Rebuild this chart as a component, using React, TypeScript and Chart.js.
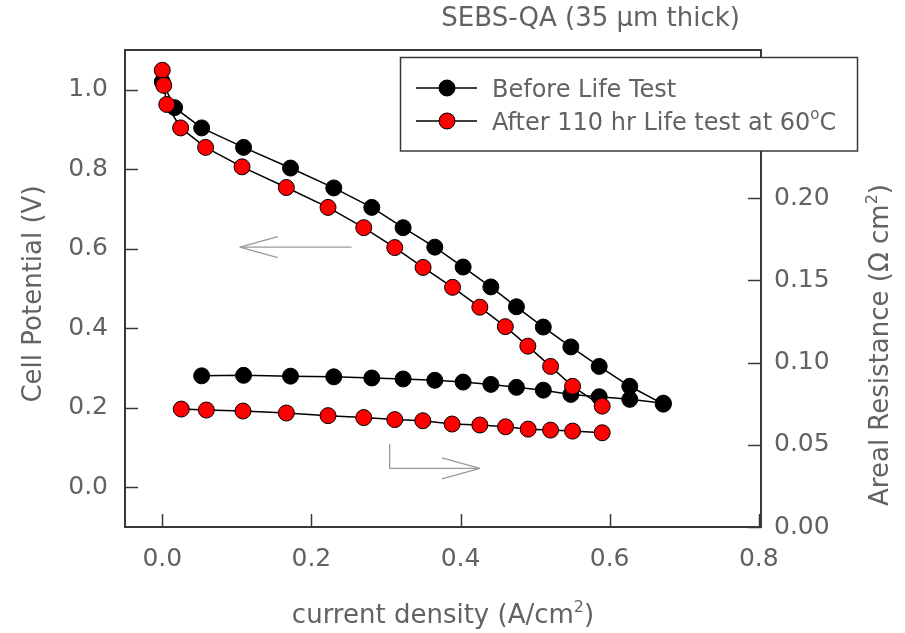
import React, { useEffect, useRef } from 'react';
import { Chart, registerables } from 'chart.js';

Chart.register(...registerables);

// ---------- data ----------
// Polarization curves (left axis, Cell Potential V) vs current density (A/cm2)
const beforeCurrent = [0.0, 0.0165, 0.0528, 0.109, 0.172, 0.23, 0.281, 0.323, 0.3655, 0.4035, 0.4407, 0.475, 0.511, 0.548, 0.586, 0.627, 0.672];
const beforePotential = [1.02, 0.955, 0.904, 0.855, 0.803, 0.753, 0.704, 0.653, 0.604, 0.554, 0.504, 0.454, 0.403, 0.353, 0.304, 0.254, 0.209];

const afterCurrent = [0.0, 0.002, 0.006, 0.0246, 0.0581, 0.107, 0.1664, 0.2223, 0.2702, 0.3118, 0.3498, 0.3893, 0.4259, 0.4601, 0.4903, 0.5208, 0.5503, 0.59];
const afterPotential = [1.049, 1.011, 0.963, 0.904, 0.855, 0.806, 0.754, 0.704, 0.653, 0.603, 0.553, 0.503, 0.453, 0.404, 0.355, 0.304, 0.254, 0.204];

// Areal resistance (right axis, Ohm cm2)
const beforeResCurrent = [0.0528, 0.109, 0.172, 0.23, 0.281, 0.323, 0.3655, 0.4035, 0.4407, 0.475, 0.511, 0.548, 0.586, 0.627, 0.672];
const beforeResistance = [0.0919, 0.0922, 0.0917, 0.0913, 0.0906, 0.09, 0.0892, 0.0881, 0.0867, 0.0849, 0.0832, 0.0806, 0.0792, 0.0776, 0.0753];

const afterResCurrent = [0.0255, 0.0591, 0.1082, 0.1664, 0.2223, 0.2702, 0.3118, 0.3494, 0.3887, 0.4259, 0.4604, 0.4907, 0.5208, 0.5503, 0.59];
const afterResistance = [0.0717, 0.0711, 0.0705, 0.0693, 0.0677, 0.0665, 0.0653, 0.0646, 0.0626, 0.062, 0.0609, 0.0595, 0.0589, 0.0583, 0.0573];

// tick values
const xTicks = [0, 0.2, 0.4, 0.6, 0.8];
const leftTicks = [0, 0.2, 0.4, 0.6, 0.8, 1.0];
const rightTicks = [0, 0.05, 0.1, 0.15, 0.2];

// labels
const chartTitle = 'SEBS-QA (35 \u03bcm thick)';
const seriesBefore = 'Before Life Test';
const seriesAfterMain = 'After 110 hr Life test at 60';
const seriesAfterSup = 'o';
const seriesAfterEnd = 'C';

// arrows (data coordinates)
const leftArrow = { fromX: 0.254, toX: 0.104, y: 0.604 }; // on left axis
const rightArrow = { x: 0.305, yTop: 0.0504, yBottom: 0.0357, toX: 0.426 }; // on right axis

// ---------- styling ----------
const FONT = 'DejaVu Sans';
const TEXT = '#626262';
const AXIS = '#383838';
const ARROW = '#9a9a9a';

const zip = (xs: number[], ys: number[]) => xs.map((x, i) => ({ x, y: ys[i] }));

type Part = { text: string; sup?: boolean };

function drawRich(ctx: CanvasRenderingContext2D, parts: Part[], x: number, y: number, size: number, align: 'left' | 'center' | 'right') {
  const font = `${size}px "${FONT}"`;
  const supFont = `${Math.round(size * 0.62)}px "${FONT}"`;
  const widths = parts.map((p) => {
    ctx.font = p.sup ? supFont : font;
    return ctx.measureText(p.text).width;
  });
  const total = widths.reduce((a, b) => a + b, 0);
  let cx = align === 'center' ? x - total / 2 : align === 'right' ? x - total : x;
  ctx.textAlign = 'left';
  ctx.textBaseline = 'alphabetic';
  parts.forEach((p, i) => {
    ctx.font = p.sup ? supFont : font;
    ctx.fillText(p.text, cx, p.sup ? y - size * 0.42 : y);
    cx += widths[i];
  });
}

function line(ctx: CanvasRenderingContext2D, x1: number, y1: number, x2: number, y2: number) {
  ctx.beginPath();
  ctx.moveTo(x1, y1);
  ctx.lineTo(x2, y2);
  ctx.stroke();
}

const decorPlugin = {
  id: 'decor',
  afterDatasetsDraw(chart: any) {
    const ctx: CanvasRenderingContext2D = chart.ctx;
    const { left, right, top, bottom } = chart.chartArea;
    const sx = chart.scales.x;
    const sy = chart.scales.y;
    const sy1 = chart.scales.y1;
    ctx.save();
    // top frame line
    ctx.strokeStyle = AXIS;
    ctx.lineWidth = 2;
    line(ctx, left - 1, top, right + 1, top);
    // inward ticks
    ctx.lineWidth = 1.5;
    const tl = 13;
    sx.ticks.forEach((t: any) => {
      const px = Math.round(sx.getPixelForValue(t.value)) + 0.5;
      line(ctx, px, bottom, px, bottom - tl);
    });
    sy.ticks.forEach((t: any) => {
      const py = Math.round(sy.getPixelForValue(t.value)) + 0.5;
      line(ctx, left, py, left + tl, py);
    });
    sy1.ticks.forEach((t: any) => {
      const py = Math.round(sy1.getPixelForValue(t.value)) + 0.5;
      line(ctx, right, py, right - tl, py);
    });

    // arrows
    ctx.strokeStyle = ARROW;
    ctx.lineWidth = 1.3;
    const head = 38;
    const hw = 10.5;
    {
      const x1 = sx.getPixelForValue(leftArrow.fromX);
      const x2 = sx.getPixelForValue(leftArrow.toX);
      const y = sy.getPixelForValue(leftArrow.y);
      line(ctx, x1, y, x2, y);
      line(ctx, x2, y, x2 + head, y - hw);
      line(ctx, x2, y, x2 + head, y + hw);
    }
    {
      const x0 = sx.getPixelForValue(rightArrow.x);
      const yT = sy1.getPixelForValue(rightArrow.yTop);
      const yB = sy1.getPixelForValue(rightArrow.yBottom);
      const x2 = sx.getPixelForValue(rightArrow.toX);
      ctx.beginPath();
      ctx.moveTo(x0, yT);
      ctx.lineTo(x0, yB);
      ctx.lineTo(x2, yB);
      ctx.stroke();
      line(ctx, x2, yB, x2 - head, yB - hw);
      line(ctx, x2, yB, x2 - head, yB + hw);
    }
    ctx.restore();
  },
  afterDraw(chart: any) {
    const ctx: CanvasRenderingContext2D = chart.ctx;
    const { left, right } = chart.chartArea;
    ctx.save();
    ctx.fillStyle = TEXT;

    // chart title
    drawRich(ctx, [{ text: chartTitle }], 740, 26, 26, 'right');

    // x axis title
    drawRich(ctx, [{ text: 'current density (A/cm' }, { text: '2', sup: true }, { text: ')' }], (left + right) / 2, 623, 26, 'center');

    // left axis title
    ctx.save();
    ctx.translate(41, 294);
    ctx.rotate(-Math.PI / 2);
    drawRich(ctx, [{ text: 'Cell Potential (V)' }], 0, 0, 26, 'center');
    ctx.restore();

    // right axis title
    ctx.save();
    ctx.translate(888, 345);
    ctx.rotate(-Math.PI / 2);
    drawRich(ctx, [{ text: 'Areal Resistance (\u03a9 cm' }, { text: '2', sup: true }, { text: ')' }], 0, 0, 26, 'center');
    ctx.restore();

    // legend
    const bx = 400.5, by = 57.5, bw = 457, bh = 93.5;
    ctx.fillStyle = '#ffffff';
    ctx.fillRect(bx, by, bw, bh);
    ctx.strokeStyle = AXIS;
    ctx.lineWidth = 1.5;
    ctx.strokeRect(bx, by, bw, bh);
    const rows = [
      { ds: chart.data.datasets[0], y: 88, parts: [{ text: seriesBefore }] as Part[] },
      { ds: chart.data.datasets[1], y: 121, parts: [{ text: seriesAfterMain }, { text: seriesAfterSup, sup: true }, { text: seriesAfterEnd }] as Part[] },
    ];
    rows.forEach((r) => {
      ctx.strokeStyle = r.ds.borderColor;
      ctx.lineWidth = r.ds.borderWidth;
      line(ctx, 416, r.y, 477, r.y);
      ctx.beginPath();
      ctx.arc(447, r.y, r.ds.pointRadius, 0, Math.PI * 2);
      ctx.fillStyle = r.ds.pointBackgroundColor;
      ctx.fill();
      ctx.lineWidth = r.ds.pointBorderWidth;
      ctx.strokeStyle = r.ds.pointBorderColor;
      ctx.stroke();
      ctx.fillStyle = TEXT;
      drawRich(ctx, r.parts, 492, r.y + 8.5, 24, 'left');
    });
    ctx.restore();
  },
};

export default function App() {
  const ref = useRef<HTMLCanvasElement>(null);

  useEffect(() => {
    if (!ref.current) return;
    const tickFont = { family: FONT, size: 25 };
    const seriesStyle = (fill: string, order: number) => ({
      borderColor: '#000000',
      borderWidth: 1.5,
      pointRadius: 8,
      pointBackgroundColor: fill,
      pointBorderColor: '#000000',
      pointBorderWidth: 1,
      backgroundColor: fill,
      showLine: true,
      order,
    });
    const chart = new Chart(ref.current, {
      type: 'scatter',
      data: {
        datasets: [
          { label: seriesBefore, data: zip(beforeCurrent, beforePotential), yAxisID: 'y', ...seriesStyle('#000000', 1) },
          { label: seriesAfterMain + seriesAfterSup + seriesAfterEnd, data: zip(afterCurrent, afterPotential), yAxisID: 'y', ...seriesStyle('#ff0000', 0) },
          { label: seriesBefore + ' (resistance)', data: zip(beforeResCurrent, beforeResistance), yAxisID: 'y1', ...seriesStyle('#000000', 1) },
          { label: 'After (resistance)', data: zip(afterResCurrent, afterResistance), yAxisID: 'y1', ...seriesStyle('#ff0000', 0) },
        ],
      },
      options: {
        responsive: false,
        animation: false,
        events: [],
        layout: { padding: { top: 50, left: 0, right: 0, bottom: 0 } },
        plugins: { legend: { display: false }, tooltip: { enabled: false }, title: { display: false } },
        scales: {
          x: {
            type: 'linear',
            min: -0.05,
            max: 0.803,
            afterBuildTicks: (s: any) => { s.ticks = xTicks.map((v) => ({ value: v })); },
            afterFit: (s: any) => { s.height = 106; },
            ticks: { font: tickFont, color: TEXT, padding: 17, callback: (v: any) => Number(v).toFixed(1) },
            grid: { display: true, drawOnChartArea: false, drawTicks: false },
            border: { display: true, color: AXIS, width: 2 },
          },
          y: {
            type: 'linear',
            position: 'left',
            min: -0.1,
            max: 1.1,
            afterBuildTicks: (s: any) => { s.ticks = leftTicks.map((v) => ({ value: v })); },
            afterFit: (s: any) => { s.width = 125; },
            ticks: { font: tickFont, color: TEXT, padding: 17, callback: (v: any) => Number(v).toFixed(1) },
            grid: { display: true, drawOnChartArea: false, drawTicks: false },
            border: { display: true, color: AXIS, width: 2 },
          },
          y1: {
            type: 'linear',
            position: 'right',
            min: 0,
            max: 0.29,
            afterBuildTicks: (s: any) => { s.ticks = rightTicks.map((v) => ({ value: v })); },
            afterFit: (s: any) => { s.width = 144; },
            ticks: { font: tickFont, color: TEXT, padding: 13, callback: (v: any) => Number(v).toFixed(2) },
            grid: { display: true, drawOnChartArea: false, drawTicks: false },
            border: { display: true, color: AXIS, width: 2 },
          },
        },
      },
      plugins: [decorPlugin],
    } as any);
    return () => chart.destroy();
  }, []);

  return (
    <div style={{ position: 'fixed', left: 0, top: 0, width: 905, height: 633, background: '#ffffff' }}>
      <canvas ref={ref} width={905} height={633} style={{ display: 'block' }} />
    </div>
  );
}
